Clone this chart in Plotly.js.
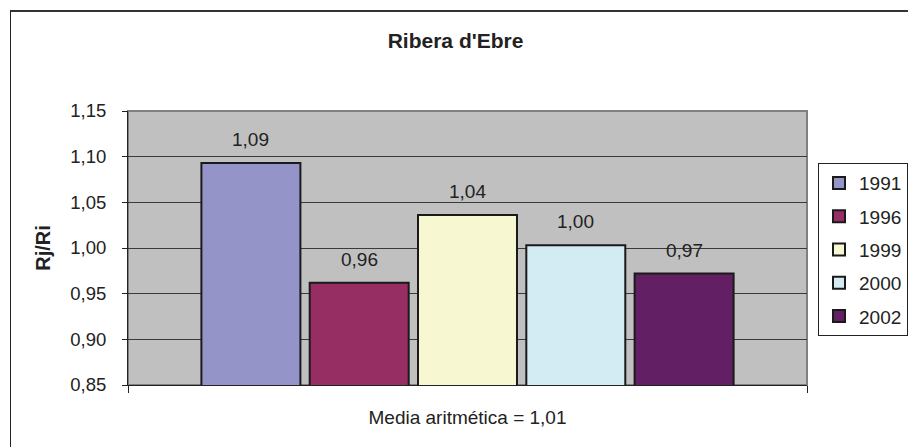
<!DOCTYPE html>
<html>
<head>
<meta charset="utf-8">
<script src="https://cdn.plot.ly/plotly-3.0.1.min.js"></script>
<style>
  html, body { margin: 0; padding: 0; background: #ffffff; }
  #wrap { position: relative; width: 908px; height: 447px; overflow: hidden; }
  #chart { width: 908px; height: 447px; }
  #frame { position: absolute; left: 10px; top: 10px; width: 920px; height: 460px;
           border-left: 1px solid #222; border-top: 2px solid #333; pointer-events: none; }
</style>
</head>
<body>
<div id="wrap">
  <div id="chart"></div>
  <div id="frame"></div>
</div>
<script>
// ---- data ----
const category = ["Ribera d'Ebre"];
const years = ["1991", "1996", "1999", "2000", "2002"];
const values = [1.093, 0.962, 1.036, 1.003, 0.972];
const colors = ["#9494c8", "#962d63", "#f7f7d2", "#d3ebf2", "#621f63"];
const yTicks = [0.85, 0.90, 0.95, 1.00, 1.05, 1.10, 1.15];
const chartTitle = "Ribera d'Ebre";
const yTitle = "Rj/Ri";
const xTitle = "Media aritmética = 1,01";

// ---- styles ----
const FONT = "Liberation Sans, Arial, sans-serif";
const TXT = 19;
const BARGAP = 0.2025;
const BARGROUPGAP = 0.086;

const traces = years.map((yr, i) => ({
  type: "bar",
  name: yr,
  legendgroup: yr,
  x: category,
  y: [values[i]],
  marker: { color: colors[i], line: { color: "#1a1a1a", width: 2 } },
  hoverinfo: "none"
}));

// value labels placed through the axis scales (offset of each series within the group)
const n = years.length;
const slot = (1 - BARGAP) / n;
const annotations = values.map((v, i) => ({
  xref: "x", yref: "y",
  x: (i - (n - 1) / 2) * slot,
  y: v,
  text: v.toFixed(2).replace(".", ","),
  showarrow: false,
  yanchor: "bottom",
  yshift: 11,
  font: { family: FONT, size: TXT, color: "#222" }
}));

const layout = {
  width: 908, height: 447,
  margin: { l: 128, r: 101, t: 111, b: 62, autoexpand: false },
  paper_bgcolor: "#ffffff",
  plot_bgcolor: "#c0c0c0",
  separators: ", ",
  barmode: "group",
  bargap: BARGAP,
  bargroupgap: BARGROUPGAP,
  font: { family: FONT, size: TXT, color: "#222" },
  title: {
    text: "<b>" + chartTitle + "</b>",
    xref: "container", x: 0.5017, xanchor: "center",
    yref: "container", y: 0.91, yanchor: "middle",
    font: { family: FONT, size: 21, color: "#222" }
  },
  xaxis: {
    type: "category",
    range: [-0.5, 0.5],
    showticklabels: false,
    ticks: "outside", tickson: "boundaries", ticklen: 7, tickcolor: "#222",
    showline: true, linecolor: "#222", linewidth: 1,
    showgrid: false, zeroline: false, fixedrange: true,
    title: { text: xTitle, standoff: 25, font: { family: FONT, size: TXT, color: "#222" } }
  },
  yaxis: {
    range: [0.85, 1.15],
    tickvals: yTicks,
    tickformat: ".2f",
    ticks: "outside", ticklen: 5, tickcolor: "#222",
    ticklabelstandoff: 12,
    showline: true, linecolor: "#222", linewidth: 1,
    showgrid: true, gridcolor: "#3a3a3a", gridwidth: 1,
    zeroline: false, fixedrange: true,
    tickfont: { family: FONT, size: 18.5, color: "#222" },
    title: { text: "<b>" + yTitle + "</b>", standoff: 14, font: { family: FONT, size: 20, color: "#222" } }
  },
  legend: {
    x: 1.0162, xanchor: "left",
    y: 0.81, yanchor: "top",
    bgcolor: "#ffffff", bordercolor: "#222", borderwidth: 1,
    tracegroupgap: 5.6,
    font: { family: FONT, size: TXT, color: "#222" },
    itemclick: false, itemdoubleclick: false
  },
  shapes: [{
    type: "rect", xref: "paper", yref: "paper",
    x0: 0, x1: 1, y0: 0, y1: 1,
    line: { color: "#808080", width: 2 },
    layer: "below"
  }],
  annotations: annotations,
  showlegend: true
};

Plotly.newPlot("chart", traces, layout, { displayModeBar: false, staticPlot: true });
</script>
</body>
</html>
